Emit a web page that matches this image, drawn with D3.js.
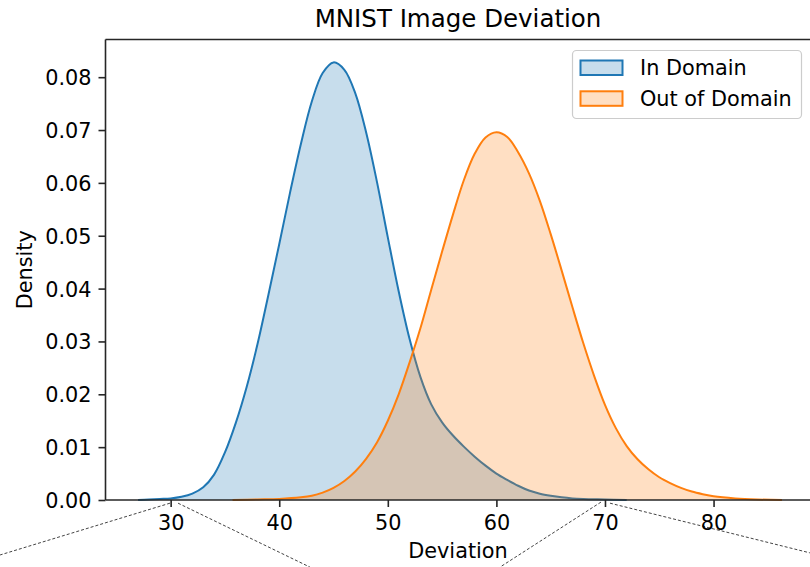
<!DOCTYPE html>
<html>
<head>
<meta charset="utf-8">
<script src="https://cdn.jsdelivr.net/npm/d3@7"></script>
<style>
  html, body { margin: 0; padding: 0; background: #fff; }
  svg { display: block; font-family: "DejaVu Sans", sans-serif; }
</style>
</head>
<body>
<svg id="chart" width="810" height="567"></svg>
<script>
// ---- data ----
const title = "MNIST Image Deviation";
const xLabel = "Deviation";
const yLabel = "Density";
const seriesNames = ["In Domain", "Out of Domain"];
const seriesColors = ["#1f77b4", "#ff7f0e"];

const inDomainX = [27, 28, 29, 30, 31, 32, 33, 34, 35, 36, 37, 38, 39, 40, 41, 42, 43, 44, 45, 46, 47, 48, 49, 50, 51, 52, 53, 54, 55, 56, 57, 58, 59, 60, 61, 62, 63, 64, 65, 66, 67, 68, 70, 72];
const inDomainY = [0.0000, 0.0001, 0.0002, 0.0003, 0.0006, 0.0012, 0.0024, 0.0048, 0.0090, 0.0146, 0.0214, 0.0295, 0.0388, 0.0484, 0.0582, 0.0674, 0.0754, 0.0808, 0.0828, 0.0814, 0.0770, 0.0696, 0.0602, 0.0497, 0.0395, 0.0305, 0.0233, 0.0181, 0.0147, 0.0122, 0.0101, 0.0082, 0.0065, 0.0050, 0.0038, 0.0027, 0.0018, 0.0012, 0.0008, 0.0005, 0.0003, 0.0002, 0.0001, 0.0000];

const outDomainX = [35.7, 38, 40, 42, 43, 44, 45, 46, 47, 48, 49, 50, 51, 52, 53, 54, 55, 56, 57, 58, 59, 60, 61, 62, 63, 64, 65, 66, 67, 68, 69, 70, 71, 72, 73, 74, 75, 76, 77, 78, 79, 80, 82, 84, 86.3];
const outDomainY = [0.0000, 0.0001, 0.0002, 0.0005, 0.0008, 0.0014, 0.0023, 0.0036, 0.0054, 0.0078, 0.0109, 0.0150, 0.0200, 0.0260, 0.0325, 0.0398, 0.0470, 0.0540, 0.0605, 0.0655, 0.0686, 0.0696, 0.0687, 0.0658, 0.0618, 0.0566, 0.0503, 0.0435, 0.0365, 0.0297, 0.0235, 0.0180, 0.0136, 0.0102, 0.0077, 0.0058, 0.0043, 0.0032, 0.0023, 0.0016, 0.0011, 0.0007, 0.0003, 0.0001, 0.0000];

const xTicks = [30, 40, 50, 60, 70, 80];
const yTicks = [0.00, 0.01, 0.02, 0.03, 0.04, 0.05, 0.06, 0.07, 0.08];

// inset connector lines (data units: start x, start y, end x, end y)
const connX1 = [29.94, 30.68, 69.63, 70.46];
const connY1 = [-0.0006, -0.0006, -0.0004, -0.0006];
const connX2 = [14.29, 42.83, 60.33, 88.87];
const connY2 = [-0.0104, -0.0127, -0.0127, -0.0100];

// ---- layout ----
const plot = { left: 105.5, top: 39.5, bottom: 500, right: 833 };

const svg = d3.select("#chart");

const x = d3.scaleLinear().domain([24, 91]).range([plot.left, plot.right]);
const y = d3.scaleLinear().domain([0, 0.08713]).range([plot.bottom, plot.top]);

// connector lines
svg.append("g").selectAll("line")
  .data(d3.range(connX1.length))
  .join("line")
  .attr("x1", i => x(connX1[i])).attr("y1", i => y(connY1[i]))
  .attr("x2", i => x(connX2[i])).attr("y2", i => y(connY2[i]))
  .attr("stroke", "#444")
  .attr("stroke-width", 1)
  .attr("stroke-dasharray", "3,2");

// plot background
svg.append("rect")
  .attr("x", plot.left).attr("y", plot.top)
  .attr("width", plot.right - plot.left).attr("height", plot.bottom - plot.top)
  .attr("fill", "#fff");

const series = [
  inDomainX.map((v, i) => [v, inDomainY[i]]),
  outDomainX.map((v, i) => [v, outDomainY[i]])
];

const curve = d3.curveCatmullRom.alpha(0.5);
const area = d3.area()
  .x(d => x(d[0])).y0(y(0)).y1(d => Math.min(y(d[1]), y(0)))
  .curve(curve);
const line = d3.line()
  .x(d => x(d[0])).y(d => y(d[1]))
  .curve(curve);

svg.append("clipPath").attr("id", "plotclip")
  .append("rect")
  .attr("x", plot.left).attr("y", plot.top)
  .attr("width", plot.right - plot.left).attr("height", plot.bottom - plot.top + 1);

const gData = svg.append("g").attr("clip-path", "url(#plotclip)");
series.forEach((s, k) => {
  gData.append("path")
    .attr("d", area(s))
    .attr("fill", seriesColors[k])
    .attr("fill-opacity", 0.25)
    .attr("stroke", "none");
  gData.append("path")
    .attr("d", line(s))
    .attr("fill", "none")
    .attr("stroke", seriesColors[k])
    .attr("stroke-width", 2);
});

// axes
const spineColor = "#262626";
const xAxis = svg.append("g")
  .attr("transform", `translate(0,${plot.bottom})`)
  .call(d3.axisBottom(x).tickValues(xTicks).tickFormat(d3.format("d")).tickSize(7).tickPadding(7));
const yAxis = svg.append("g")
  .attr("transform", `translate(${plot.left},0)`)
  .call(d3.axisLeft(y).tickValues(yTicks).tickFormat(d3.format(".2f")).tickSize(7).tickPadding(7));

[xAxis, yAxis].forEach(g => {
  g.select(".domain").remove();
  g.selectAll(".tick line").attr("stroke", spineColor).attr("stroke-width", 1.6);
  g.selectAll(".tick text")
    .attr("fill", "#000")
    .style("font-size", "20.8px")
    .style("font-family", "'DejaVu Sans', sans-serif");
});
xAxis.selectAll(".tick text").attr("dy", "0.76em");
yAxis.selectAll(".tick text").attr("dy", "0.36em");

// spines (left, bottom, top)
svg.append("line")
  .attr("x1", plot.left).attr("x2", plot.left)
  .attr("y1", plot.top).attr("y2", plot.bottom)
  .attr("stroke", spineColor).attr("stroke-width", 1.6);
svg.append("line")
  .attr("x1", plot.left).attr("x2", plot.right)
  .attr("y1", plot.bottom).attr("y2", plot.bottom)
  .attr("stroke", spineColor).attr("stroke-width", 1.6);
svg.append("line")
  .attr("x1", plot.left).attr("x2", plot.right)
  .attr("y1", plot.top).attr("y2", plot.top)
  .attr("stroke", spineColor).attr("stroke-width", 1.6);

// title and axis labels
svg.append("text")
  .attr("x", 458).attr("y", 27)
  .attr("text-anchor", "middle")
  .style("font-size", "24.5px")
  .attr("fill", "#000")
  .text(title);

svg.append("text")
  .attr("x", 458).attr("y", 558)
  .attr("text-anchor", "middle")
  .style("font-size", "20.8px")
  .attr("fill", "#000")
  .text(xLabel);

svg.append("text")
  .attr("transform", `translate(32,${(plot.top + plot.bottom) / 2}) rotate(-90)`)
  .attr("text-anchor", "middle")
  .style("font-size", "20.8px")
  .attr("fill", "#000")
  .text(yLabel);

// legend
const lg = svg.append("g");
lg.append("rect")
  .attr("x", 572.5).attr("y", 50.5)
  .attr("width", 229).attr("height", 68)
  .attr("rx", 4).attr("ry", 4)
  .attr("fill", "#fff").attr("fill-opacity", 0.8)
  .attr("stroke", "#cccccc").attr("stroke-width", 1.2);

seriesNames.forEach((name, i) => {
  const yy = 60.5 + i * 30.8;
  lg.append("rect")
    .attr("x", 580.5).attr("y", yy)
    .attr("width", 42).attr("height", 14.5)
    .attr("fill", seriesColors[i]).attr("fill-opacity", 0.25)
    .attr("stroke", seriesColors[i]).attr("stroke-width", 2);
  lg.append("text")
    .attr("x", 640).attr("y", yy + 14.5)
    .style("font-size", "20.8px")
    .attr("fill", "#000")
    .text(name);
});
</script>
</body>
</html>
